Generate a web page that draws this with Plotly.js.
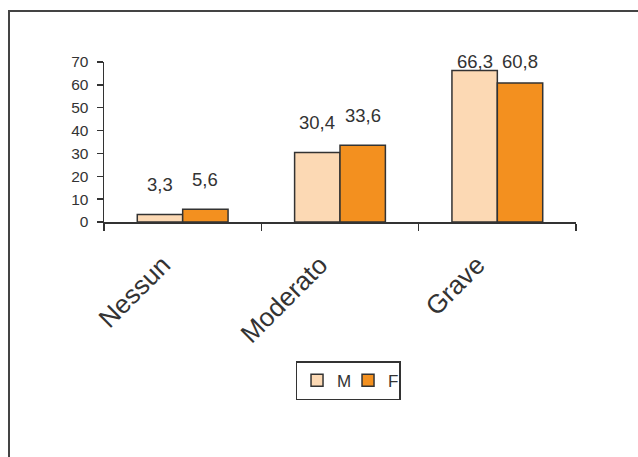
<!DOCTYPE html>
<html><head><meta charset="utf-8">
<script src="https://cdn.plot.ly/plotly-3.0.1.min.js"></script>
<style>html,body{margin:0;padding:0;background:#fff;}#chart{width:638px;height:457px;}</style>
</head><body><div id="chart"></div>
<script>
const categories = ['Nessun', 'Moderato', 'Grave'];
const seriesNames = ['M', 'F'];
const valuesM = [3.3, 30.4, 66.3];
const valuesF = [5.6, 33.6, 60.8];
const yTickVals = [0, 10, 20, 30, 40, 50, 60, 70];

const colorM = '#FCD9B4';
const colorF = '#F3901F';
const ink = '#333333';

const W = 638, H = 457;
const mL = 104, mR = 62, mT = 62, mB = 235;
const plotH = H - mT - mB;
const yMax = 70;
const ppu = plotH / yMax;

const bargap = 0.423;
const barW = (1 - bargap) / 2;

function fmt(v) { return v.toFixed(1).replace('.', ','); }

const traces = [
  {type: 'bar', name: seriesNames[0], x: categories, y: valuesM,
   marker: {color: colorM, line: {color: ink, width: 1.5}}, hoverinfo: 'none'},
  {type: 'bar', name: seriesNames[1], x: categories, y: valuesF,
   marker: {color: colorF, line: {color: ink, width: 1.5}}, hoverinfo: 'none'}
];

const annotations = [];
[valuesM, valuesF].forEach((vals, s) => {
  vals.forEach((v, i) => {
    const shift = Math.min(30, (yMax - v) * ppu + 1);
    annotations.push({
      xref: 'x', yref: 'y', x: i + (s === 0 ? -1 : 1) * barW / 2, y: v,
      text: fmt(v), showarrow: false, xanchor: 'center', yanchor: 'middle',
      yshift: shift, font: {family: 'Liberation Sans, Arial, sans-serif', size: 18.5, color: ink}
    });
  });
});

const layout = {
  width: W, height: H,
  margin: {l: mL, r: mR, t: mT, b: mB, pad: 0},
  paper_bgcolor: '#fff', plot_bgcolor: '#fff',
  font: {family: 'Liberation Sans, Arial, sans-serif', color: ink},
  barmode: 'group', bargap: bargap, bargroupgap: 0,
  showlegend: true,
  legend: {orientation: 'h', x: 0.517, xanchor: 'center', y: -0.87, yanchor: 'top',
    bordercolor: ink, borderwidth: 1.5, bgcolor: '#fff', entrywidth: 6, itemwidth: 30,
    font: {size: 17, color: ink}, traceorder: 'normal'},
  xaxis: {type: 'category', showline: true, linecolor: ink, linewidth: 1.5,
    ticks: 'outside', tickson: 'boundaries', ticklen: 7, tickcolor: ink, tickwidth: 1.5,
    tickangle: -45, tickfont: {size: 26, color: ink}, showgrid: false, zeroline: false,
    ticklabelstandoff: 16, ticklabelshift: -20, fixedrange: true},
  yaxis: {range: [0, yMax], tickvals: yTickVals, ticktext: yTickVals.map(String),
    showline: true, linecolor: ink, linewidth: 1.5, ticks: 'outside', ticklen: 6,
    tickcolor: ink, tickwidth: 1.5, tickfont: {size: 15.5, color: ink},
    showgrid: false, zeroline: false, ticklabelstandoff: 5, fixedrange: true},
  annotations: annotations,
  shapes: [{type: 'rect', xref: 'paper', yref: 'paper',
    x0: (9 - mL) / (W - mL - mR), x1: 1.5,
    y0: (H - mB - 11) / plotH, y1: -2,
    line: {color: '#444', width: 2}, fillcolor: 'rgba(0,0,0,0)', layer: 'below'}]
};

Plotly.newPlot('chart', traces, layout, {displayModeBar: false, staticPlot: true});
</script></body></html>
